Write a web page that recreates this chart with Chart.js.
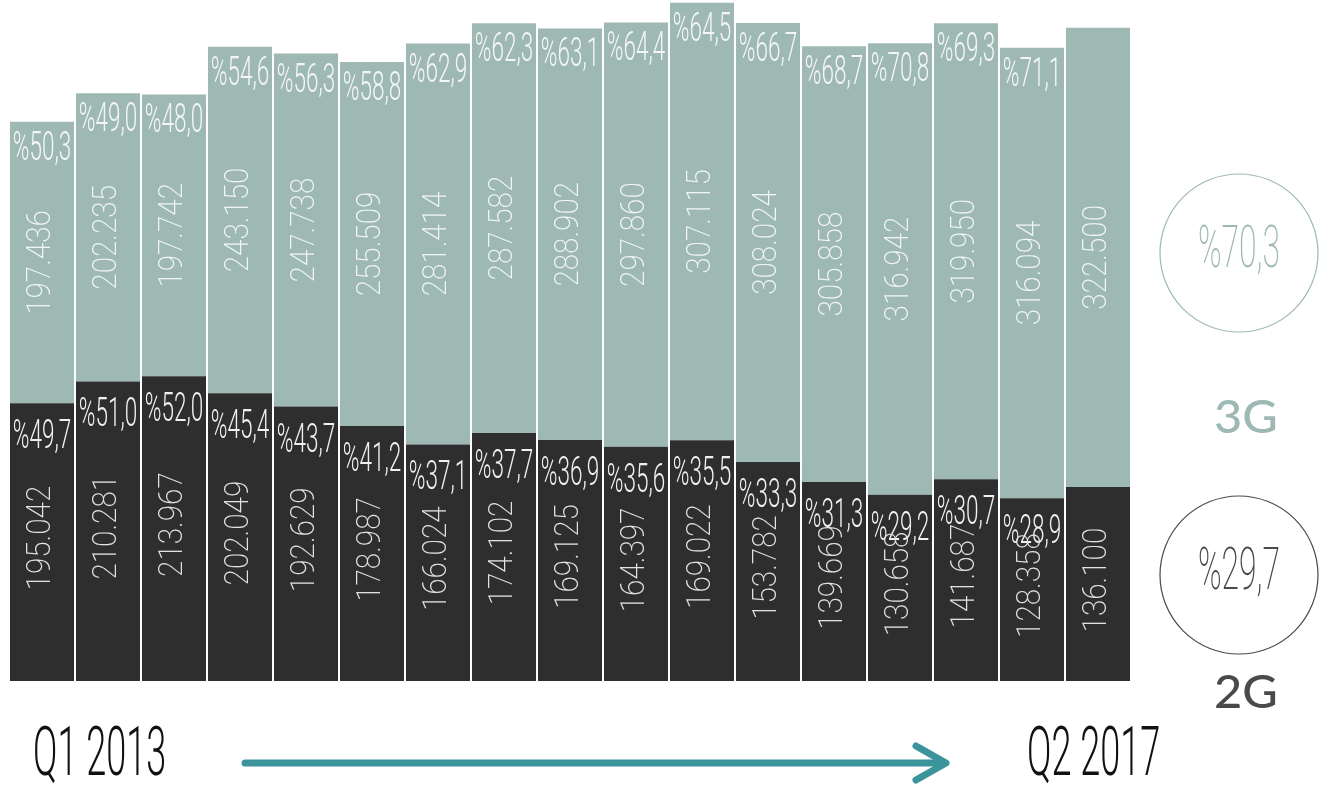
<!DOCTYPE html>
<html>
<head>
<meta charset="utf-8">
<title>2G / 3G</title>
<script src="https://cdn.jsdelivr.net/npm/chart.js@4/dist/chart.umd.min.js"></script>
<style>
  html, body { margin: 0; padding: 0; background: #fff; }
  canvas { display: block; }
</style>
</head>
<body>
<canvas id="mycanvas" width="1336" height="785"></canvas>
<script>
// quarterly subscriber counts (thousands), Q1 2013 .. Q2 2017
var quarters = ['Q1 2013', 'Q2 2013', 'Q3 2013', 'Q4 2013', 'Q1 2014', 'Q2 2014', 'Q3 2014', 'Q4 2014',
                'Q1 2015', 'Q2 2015', 'Q3 2015', 'Q4 2015', 'Q1 2016', 'Q2 2016', 'Q3 2016', 'Q4 2016', 'Q1 2017'];
var values2G = [195042, 210281, 213967, 202049, 192629, 178987, 166024, 174102, 169125,
                164397, 169022, 153782, 139669, 130658, 141687, 128358, 136100];
var values3G = [197436, 202235, 197742, 243150, 247738, 255509, 281414, 287582, 288902,
                297860, 307115, 308024, 305858, 316942, 319950, 316094, 322500];
var share2G = [49.7, 51.0, 52.0, 45.4, 43.7, 41.2, 37.1, 37.7, 36.9, 35.6, 35.5, 33.3, 31.3, 29.2, 30.7, 28.9, null];
var share3G = [50.3, 49.0, 48.0, 54.6, 56.3, 58.8, 62.9, 62.3, 63.1, 64.4, 64.5, 66.7, 68.7, 70.8, 69.3, 71.1, null];
var latestShare = { '3G': 70.3, '2G': 29.7 };
var periodStart = 'Q1 2013';
var periodEnd = 'Q2 2017';

var COLOR_3G = '#9eb9b3';
var COLOR_2G = '#2e2e2e';

function pct(v) {
	return '%' + v.toFixed(1).replace('.', ',');
}
function num(v) {
	return v.toLocaleString('tr-TR');
}

// draws text squeezed horizontally to fake a condensed face
function condensed(ctx, text, x, y, font, sx, color, align) {
	ctx.save();
	ctx.font = font;
	ctx.fillStyle = color;
	ctx.textAlign = align || 'center';
	ctx.translate(x, y);
	ctx.scale(sx, 1);
	ctx.fillText(text, 0, 0);
	ctx.restore();
}

var barLabels = {
	id: 'barLabels',
	afterDatasetsDraw: function(chart) {
		var ctx = chart.ctx;
		var bottom = chart.getDatasetMeta(0).data;
		var top = chart.getDatasetMeta(1).data;
		ctx.textBaseline = 'alphabetic';
		for (var i = 0; i < bottom.length; i++) {
			var b = bottom[i], t = top[i];
			// shares at the top of each segment
			if (share3G[i] != null) {
				condensed(ctx, pct(share3G[i]), t.x, t.y + 38, '300 41px Roboto', 0.55, '#f4f6f5');
			}
			if (share2G[i] != null) {
				condensed(ctx, pct(share2G[i]), b.x, b.y + 45, '300 41px Roboto', 0.55, '#f0f0f0');
			}
			// rotated counts in the middle of each segment
			var pairs = [[b, values2G[i], -4], [t, values3G[i], 0]];
			for (var k = 0; k < pairs.length; k++) {
				var el = pairs[k][0];
				var cy = (el.y + el.base) / 2 + pairs[k][2];
				ctx.save();
				ctx.translate(el.x, cy);
				ctx.rotate(-Math.PI / 2);
				ctx.scale(0.9, 1);
				ctx.font = '200 33px Roboto';
				ctx.fillStyle = k === 0 ? '#e2e2e2' : '#f2f5f4';
				ctx.textAlign = 'center';
				ctx.textBaseline = 'middle';
				ctx.fillText(num(pairs[k][1]), 0, 0);
				ctx.restore();
			}
		}
	},
	afterDraw: function(chart) {
		var ctx = chart.ctx;
		ctx.save();
		// latest share circles
		ctx.lineWidth = 1.2;
		ctx.strokeStyle = COLOR_3G;
		ctx.beginPath();
		ctx.arc(1239, 253, 79, 0, Math.PI * 2);
		ctx.stroke();
		ctx.strokeStyle = '#4a4a4a';
		ctx.beginPath();
		ctx.arc(1239, 575, 79, 0, Math.PI * 2);
		ctx.stroke();
		condensed(ctx, pct(latestShare['3G']), 1239, 267, '200 60px Roboto', 0.53, COLOR_3G);
		condensed(ctx, pct(latestShare['2G']), 1239, 589, '200 60px Roboto', 0.53, '#4a4a4a');

		condensed(ctx, '3G', 1246, 433, '500 46px Lato', 1.06, COLOR_3G);
		condensed(ctx, '2G', 1246, 708, '500 46px Lato', 1.06, '#4a4a4a');

		// period labels and arrow
		condensed(ctx, periodStart, 33, 775, '300 68px Roboto', 0.53, '#111', 'left');
		condensed(ctx, periodEnd, 1027, 775, '300 68px Roboto', 0.53, '#111', 'left');
		ctx.strokeStyle = '#3b939c';
		ctx.lineWidth = 7;
		ctx.lineCap = 'round';
		ctx.lineJoin = 'round';
		ctx.beginPath();
		ctx.moveTo(245, 763);
		ctx.lineTo(944, 763);
		ctx.stroke();
		ctx.beginPath();
		ctx.moveTo(916, 746);
		ctx.lineTo(946, 763);
		ctx.lineTo(916, 780);
		ctx.stroke();
		ctx.restore();
	}
};

var chartdata = {
	labels: quarters,
	datasets: [
		{
			label: '2G',
			backgroundColor: COLOR_2G,
			data: values2G
		},
		{
			label: '3G',
			backgroundColor: COLOR_3G,
			data: values3G
		}
	]
};

var ctx = document.getElementById('mycanvas');

var barGraph = new Chart(ctx, {
	type: 'bar',
	data: chartdata,
	options: {
		responsive: false,
		animation: false,
		layout: { padding: { left: 9, right: 205, top: 0, bottom: 104 } },
		datasets: { bar: { barPercentage: 1, categoryPercentage: 0.97 } },
		scales: {
			x: { stacked: true, display: false },
			y: { stacked: true, display: false, min: 0, max: 478000 }
		},
		plugins: {
			legend: { display: false },
			tooltip: { enabled: false }
		}
	},
	plugins: [barLabels]
});
</script>
</body>
</html>
